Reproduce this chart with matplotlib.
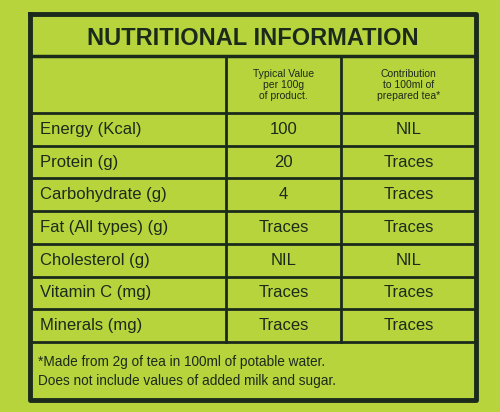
import matplotlib.pyplot as plt

# table contents
nutrients = ["Energy (Kcal)", "Protein (g)", "Carbohydrate (g)", "Fat (All types) (g)",
             "Cholesterol (g)", "Vitamin C (mg)", "Minerals (mg)"]
per_100g = ["100", "20", "4", "Traces", "NIL", "Traces", "Traces"]
per_100ml = ["NIL", "Traces", "Traces", "Traces", "NIL", "Traces", "Traces"]
head_1 = "Typical Value\nper 100g\nof product."
head_2 = "Contribution\nto 100ml of\nprepared tea*"
footnote = ["*Made from 2g of tea in 100ml of potable water.",
            "Does not include values of added milk and sugar."]

bg = "#b7d43c"
ink = "#1c2a1c"

fig = plt.figure(figsize=(5, 4.12), dpi=100)
fig.patch.set_facecolor(bg)
ax = fig.add_axes([0, 0, 1, 1])
ax.set_xlim(0, 500)
ax.set_ylim(412, 0)
ax.axis("off")
ax.set_facecolor(bg)

left, right, top, bottom = 30, 476, 14, 400
col1, col2 = 226, 341
head_top, head_bot = 56, 113
row_h = 32.7

# outer box and title
ax.plot([left, right, right, left, left], [top, top, bottom, bottom, top], color=ink, lw=3.5)
ax.text((left + right) / 2, 38, "NUTRITIONAL INFORMATION", ha="center", va="center",
        fontsize=17, fontweight="bold", color=ink, family="Liberation Sans")
ax.plot([left, right], [head_top, head_top], color=ink, lw=2.5)

n = len(nutrients)
rows_end = head_bot + n * row_h
ax.plot([col1, col1], [head_top, rows_end], color=ink, lw=2)
ax.plot([col2, col2], [head_top, rows_end], color=ink, lw=2)
ax.plot([left, right], [head_bot, head_bot], color=ink, lw=2)

ax.text((col1 + col2) / 2, 85, head_1, ha="center", va="center", fontsize=7.5,
        color=ink, linespacing=1.1, family="Liberation Sans")
ax.text((col2 + right) / 2, 85, head_2, ha="center", va="center", fontsize=7.5,
        color=ink, linespacing=1.1, family="Liberation Sans")

for i, (name, a, b) in enumerate(zip(nutrients, per_100g, per_100ml)):
    y0 = head_bot + i * row_h
    ax.plot([left, right], [y0 + row_h, y0 + row_h], color=ink, lw=2)
    yc = y0 + row_h / 2
    ax.text(left + 10, yc, name, ha="left", va="center", fontsize=12, color=ink,
            family="Liberation Sans")
    ax.text((col1 + col2) / 2, yc, a, ha="center", va="center", fontsize=12,
            color=ink, family="Liberation Sans")
    ax.text((col2 + right) / 2, yc, b, ha="center", va="center", fontsize=12,
            color=ink, family="Liberation Sans")

ax.text(left + 8, 362, footnote[0], ha="left", va="center", fontsize=9.8, color=ink,
        family="Liberation Sans")
ax.text(left + 8, 381, footnote[1], ha="left", va="center", fontsize=9.8, color=ink,
        family="Liberation Sans")

fig.savefig("out.png", dpi=100, facecolor=bg)
